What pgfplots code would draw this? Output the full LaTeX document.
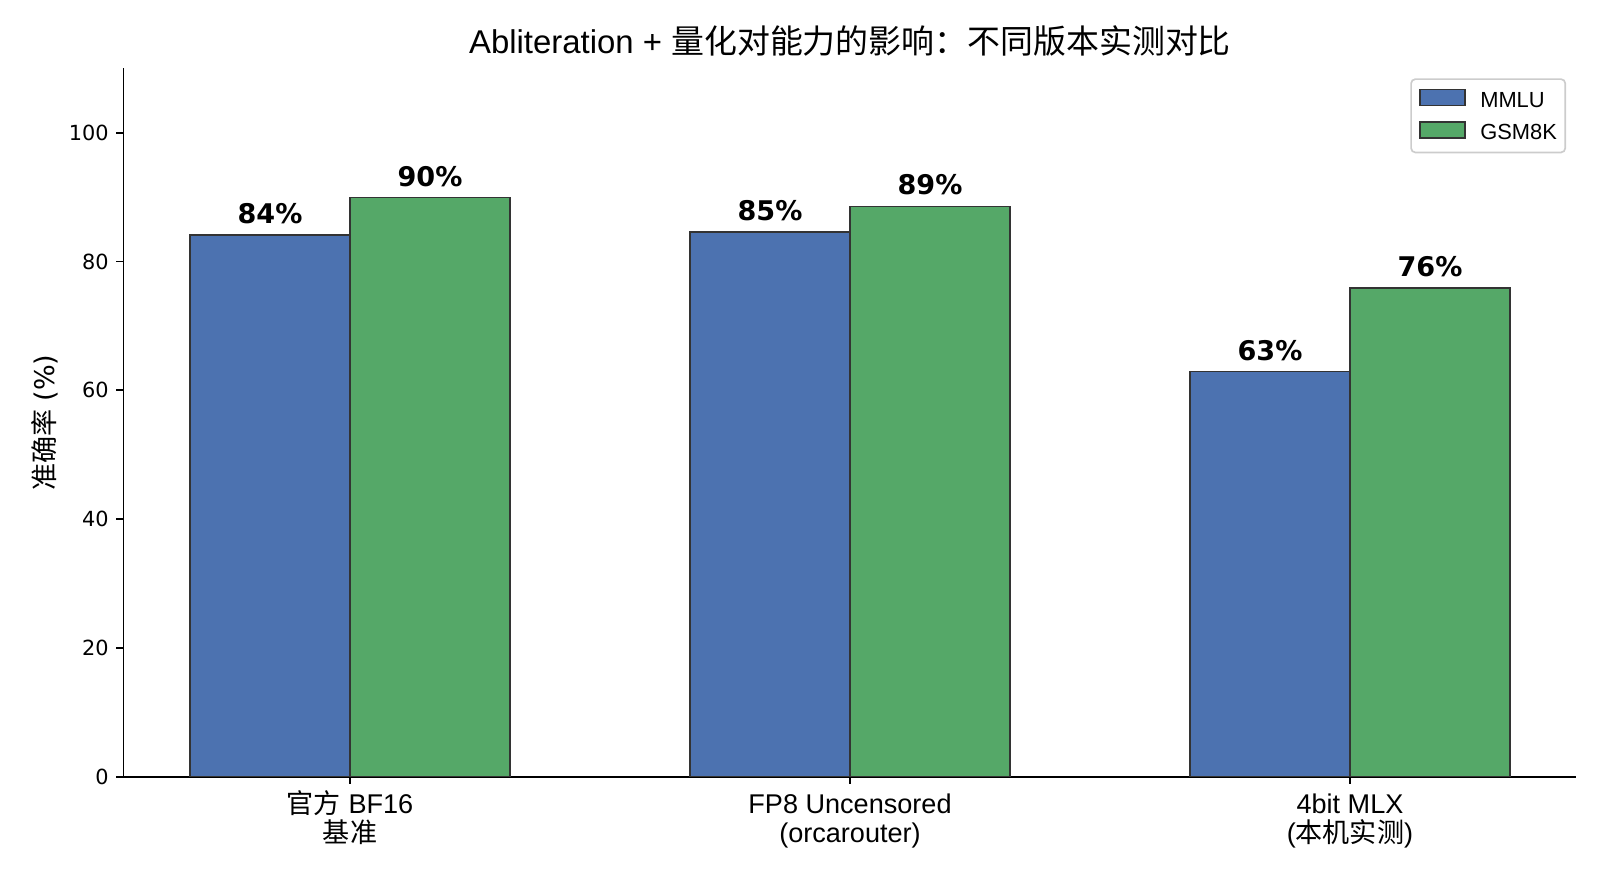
\documentclass[border=0pt]{standalone}
\usepackage{pgfplots}
\pgfplotsset{compat=1.18}
\usepackage{fontspec}
\setmainfont{Liberation Sans}
\newfontfamily\cjk{Noto Sans CJK SC}
\newfontfamily\dejavu{DejaVu Sans}
\definecolor{mmlu}{HTML}{4C72B0}
\definecolor{gsm}{HTML}{55A868}
\definecolor{edge}{HTML}{333333}

\begin{document}
\lineskiplimit=-100pt
\begin{tikzpicture}
\useasboundingbox (-59.3bp,-49.6bp) rectangle (708.7bp,372.8bp);
\begin{axis}[
	at={(0,0)}, anchor=south west,
	scale only axis, width=697.4bp, height=340bp,
	xmin=-0.453, xmax=2.453, ymin=0, ymax=110,
	ybar, bar width=0.32,
	axis x line*=bottom, axis y line*=left,
	axis line style={line width=0.8bp, black},
	tick align=outside, major tick length=3.5bp,
	tick style={line width=0.8bp, black},
	xtick={0,1,2},
	xticklabels={
		{\rule{0pt}{12bp}{\cjk 官方} BF16\\{\cjk 基准}},
		{\rule{0pt}{12bp}FP8 Uncensored\\(orcarouter)},
		{\rule{0pt}{12bp}4bit MLX\\({\cjk 本机实测})}},
	xticklabel style={font=\fontsize{13bp}{13.5bp}\selectfont, align=center,
		anchor=north, inner sep=0pt, yshift=-2.2bp},
	ytick={0,20,...,100},
	/pgf/number format/assume math mode=true,
	yticklabel style={font=\dejavu\fontsize{10bp}{12bp}\selectfont,
		anchor=east, inner sep=0pt, xshift=-3.4bp},
	every axis title/.style={at={(0.5,1)}, anchor=base, yshift=7.25bp,
		inner sep=0pt, font=\fontsize{15.8bp}{18bp}\selectfont},
	title={Abliteration + {\cjk 量化对能力的影响：不同版本实测对比}},
	every axis y label/.style={at={(axis description cs:-0.0545,0.5)},
		rotate=90, anchor=center, inner sep=0pt,
		font=\fontsize{13bp}{15bp}\selectfont},
	ylabel={{\cjk 准确率} {\dejavu (\%)}},
	legend style={at={(1,1)}, anchor=north east, xshift=-5bp, yshift=-4.8bp,
		draw=black!20, line width=0.8bp, rounded corners=2bp,
		inner xsep=4bp, inner ysep=4.8bp, row sep=5.3bp, column sep=7bp,
		font=\fontsize{10.5bp}{12bp}\selectfont,
		nodes={inner sep=0pt}},
	legend cell align=left,
	legend image code/.code={\draw[#1, sharp corners, line width=0.6bp]
		(0bp,-2.25bp) rectangle (21.6bp,5.45bp);},
	nodes near coords,
	point meta=explicit symbolic,
	nodes near coords style={font=\dejavu\bfseries\fontsize{13bp}{15bp}\selectfont,
		anchor=base, inner sep=0pt, yshift=5.4bp, black},
]
\addplot[fill=mmlu, draw=edge, line width=0.6bp, bar shift=-0.16]
	coordinates {(0,84.1) [84\%] (1,84.6) [85\%] (2,62.9) [63\%]};
\addlegendentry{MMLU}
\addplot[fill=gsm, draw=edge, line width=0.6bp, bar shift=0.16]
	coordinates {(0,89.9) [90\%] (1,88.6) [89\%] (2,75.9) [76\%]};
\addlegendentry{GSM8K}
\end{axis}
\end{tikzpicture}
\end{document}
